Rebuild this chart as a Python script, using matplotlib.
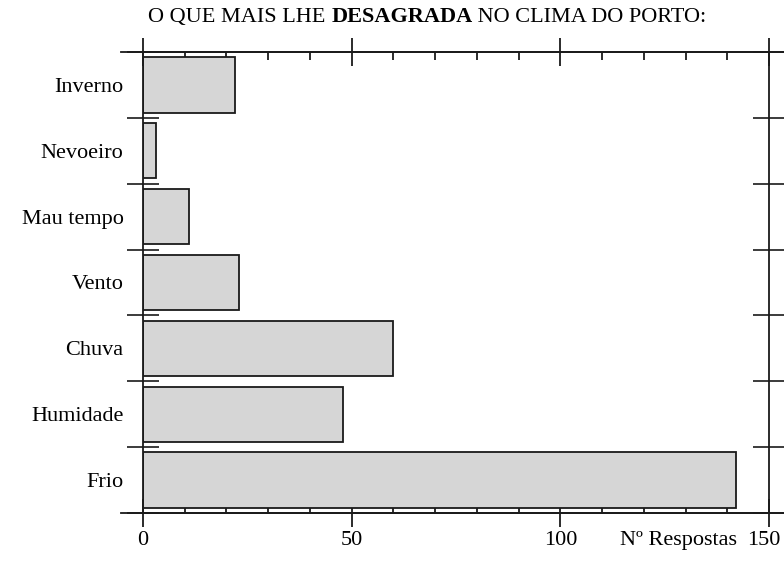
import numpy as np
import matplotlib
matplotlib.use("Agg")
import matplotlib.pyplot as plt
import matplotlib.transforms as mtrans
from matplotlib.ticker import MultipleLocator

# dados
categorias = ["Inverno", "Nevoeiro", "Mau tempo", "Vento", "Chuva", "Humidade", "Frio"]
respostas = [22, 3, 11, 23, 60, 48, 142]
xticks = [0, 50, 100, 150]

plt.rcParams["font.family"] = ["Liberation Serif", "DejaVu Serif"]
FS = 16

fig = plt.figure(figsize=(7.84, 5.61), dpi=100)
ax = fig.add_axes([0.1824, 0.0856, 0.981 - 0.1824, 0.9073 - 0.0856])

y = np.arange(len(categorias))
ax.barh(y, respostas, height=0.84, color="#d6d6d6", edgecolor="#1a1a1a",
        linewidth=1.3, zorder=2)

ax.set_xlim(0, 150)
ax.set_ylim(len(categorias) - 0.5, -0.5)

# eixo x: ticks principais atravessam, secundários para dentro
ax.set_xticks(xticks)
ax.set_xticklabels([str(v) for v in xticks], fontsize=FS)
ax.xaxis.set_minor_locator(MultipleLocator(10))
ax.tick_params(axis="x", which="major", direction="inout", length=20, width=1.3,
               top=True, bottom=True, pad=3, color="#1a1a1a")
ax.tick_params(axis="x", which="minor", direction="in", length=6, width=1.3,
               top=True, bottom=True, color="#1a1a1a")

# eixo y: ticks nas fronteiras, rótulos no centro
ax.set_yticks(np.arange(len(categorias) + 1) - 0.5)
ax.set_yticklabels([])
ax.set_yticks(y, minor=True)
ax.set_yticklabels(categorias, minor=True, fontsize=FS)
ax.tick_params(axis="y", which="major", direction="inout", length=23, width=1.2,
               left=True, right=True, color="#1a1a1a")
ax.tick_params(axis="y", which="minor", length=0, pad=14)

for s in ax.spines.values():
    s.set_linewidth(1.3)
    s.set_color("#1a1a1a")

# prolongar as linhas horizontais como no original
for yy in (0, 1):
    ax.plot([-0.035, 1.03], [yy, yy], transform=ax.transAxes, color="#1a1a1a",
            lw=1.3, clip_on=False, zorder=3)

# o "150" fica encostado à margem: puxar um pouco para dentro
lab = ax.xaxis.get_major_ticks()[-1].label1
lab.set_transform(lab.get_transform() +
                  mtrans.ScaledTranslation(-4 / 72, 0, fig.dpi_scale_trans))

# rótulo do eixo na mesma linha que os números
ax.annotate("Nº Respostas", xy=(0.855, 0), xycoords="axes fraction",
            xytext=(0, -13), textcoords="offset points",
            fontsize=FS, ha="center", va="top")

# título com palavra em negrito
t1 = fig.text(0.189, 0.968, "O QUE MAIS LHE ", fontsize=FS, va="center", ha="left")
t2 = ax.annotate("DESAGRADA", xy=(1, 0), xycoords=t1, va="bottom", ha="left",
                 fontsize=FS, fontweight="bold")
t3 = ax.annotate(" NO CLIMA DO PORTO:", xy=(1, 0), xycoords=t2, va="bottom",
                 ha="left", fontsize=FS)

fig.savefig("out.png", dpi=100)
